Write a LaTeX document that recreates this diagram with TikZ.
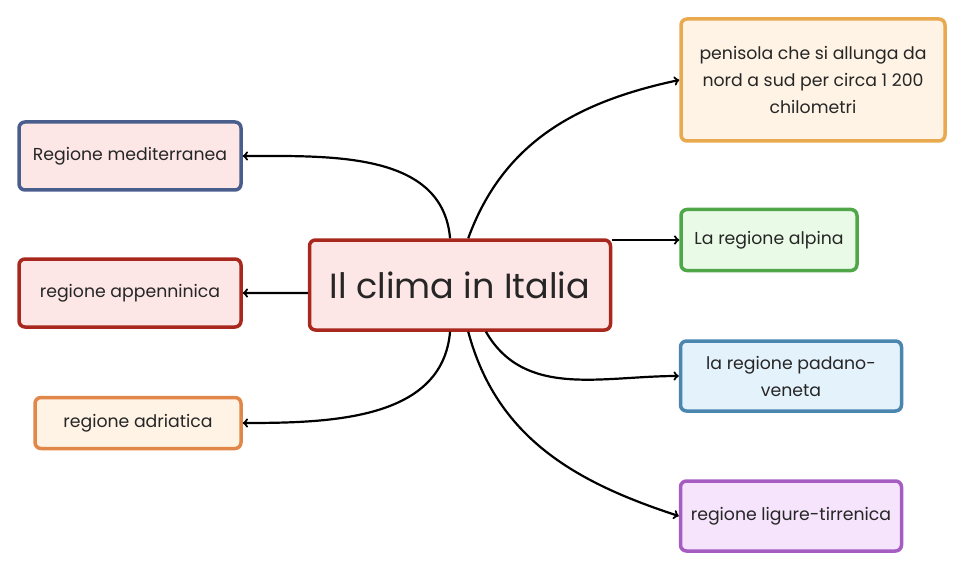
\documentclass[tikz,border=0pt]{standalone}
\usepackage{fontspec}
\setmainfont{Poppins}
\definecolor{inkgray}{HTML}{262626}
\definecolor{redline}{HTML}{A8281E}
\definecolor{redfill}{HTML}{FDE6E6}
\definecolor{blueline}{HTML}{4A5E8D}
\definecolor{orangeline}{HTML}{E2874A}
\definecolor{orangefill}{HTML}{FEF3E4}
\definecolor{goldline}{HTML}{E9A94F}
\definecolor{greenline}{HTML}{4FA74A}
\definecolor{greenfill}{HTML}{E9FBE6}
\definecolor{skyline}{HTML}{4A86AD}
\definecolor{skyfill}{HTML}{E4F2FC}
\definecolor{purpleline}{HTML}{A65DC1}
\definecolor{purplefill}{HTML}{F5E4FB}

\tikzstyle{topic} = [shape=rectangle,rounded corners=6pt,line width=3.5pt,inner sep=0pt,align=center,text=inkgray,font=\fontsize{17.3}{27}\selectfont]
\tikzstyle{maintopic} = [topic,font=\fontsize{35}{40}\selectfont]
\tikzstyle{arrowdecorate}=[->,>=to,line width=2.2pt,black]

\begin{document}
\begin{tikzpicture}[x=1pt,y=-1pt]
      \useasboundingbox (0,0) rectangle (966,572);
      %nodes
      \node[maintopic, draw=redline, fill=redfill, minimum width=301pt, minimum height=90pt] (clima) at (460,285) {Il clima in Italia};
      \foreach \nodename/\x/\y/\w/\h/\line/\fill/\label in {
        penisola/813/80/264/122/goldline/orangefill/{penisola che si allunga da\\nord a sud per circa 1~200\\chilometri},
        alpina/769/240/176/61/greenline/greenfill/{La regione alpina},
        padano/791/376/221/70/skyline/skyfill/{la regione padano-\\veneta},
        ligure/791/516/221/70/purpleline/purplefill/{regione ligure-tirrenica},
        mediterranea/130/156/222/68/blueline/redfill/{Regione mediterranea},
        appenninica/130/293/222/68/redline/redfill/{regione appenninica},
        adriatica/138/423/206/51/orangeline/orangefill/{regione adriatica}}
      {
        \node[topic, draw=\line, fill=\fill, minimum width=\w pt, minimum height=\h pt] (\nodename) at (\x,\y) {\label};
      };

      %edges
      \path
      \foreach \startnode/\endnode/\outangle/\inangle in {
        clima.102/mediterranea.east/95/0, clima.80/penisola.west/70/192,
        alpina.west -| clima.east/alpina.west/0/180, clima.183/appenninica.east/180/0,
        clima.258/adriatica.east/265/0, clima.299/padano.west/300/180,
        clima.280/ligure.west/285/162}
      {
        (\startnode) edge[arrowdecorate,out=\outangle,in=\inangle] (\endnode)
      };
    \end{tikzpicture}
\end{document}
